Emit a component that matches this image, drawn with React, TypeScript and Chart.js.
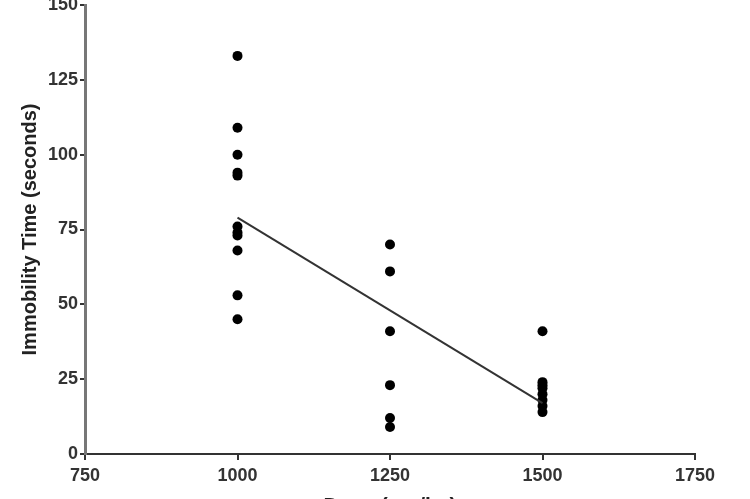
import React, { useEffect, useRef } from "react";
import { Chart, registerables } from "chart.js";

Chart.register(...registerables);

const xTickValues = [750, 1000, 1250, 1500, 1750];
const yTickValues = [0, 25, 50, 75, 100, 125, 150];

const dose1000 = [133, 109, 100, 94, 93, 76, 74, 73, 68, 53, 45];
const dose1250 = [70, 61, 41, 23, 12, 9];
const dose1500 = [41, 24, 23, 22, 20, 18, 16, 14];

const fitX = [1000, 1500];
const fitY = [79, 17];

const xTitle = "Dose (mg/kg)";
const yTitle = "Immobility Time (seconds)";

export default function App() {
  const ref = useRef<HTMLCanvasElement | null>(null);

  useEffect(() => {
    if (!ref.current) return;
    const points = [
      ...dose1000.map((y) => ({ x: 1000, y })),
      ...dose1250.map((y) => ({ x: 1250, y })),
      ...dose1500.map((y) => ({ x: 1500, y })),
    ];
    const fit = fitX.map((x, i) => ({ x, y: fitY[i] }));
    const font = "'Liberation Sans', Arial, sans-serif";
    const chart = new Chart(ref.current, {
      type: "scatter",
      data: {
        datasets: [
          {
            type: "line",
            data: fit,
            borderColor: "#333",
            borderWidth: 2,
            pointRadius: 0,
            fill: false,
          } as any,
          {
            data: points,
            backgroundColor: "#000",
            borderColor: "#000",
            pointRadius: 5,
            pointBorderWidth: 0,
          },
        ],
      },
      options: {
        animation: false,
        responsive: false,
        layout: { padding: { left: 0, right: 55, top: 5, bottom: 0 } },
        plugins: { legend: { display: false }, tooltip: { enabled: false } },
        scales: {
          x: {
            type: "linear",
            min: 750,
            max: 1750,
            afterBuildTicks: (s: any) => {
              s.ticks = xTickValues.map((v) => ({ value: v }));
            },
            afterFit: (s: any) => {
              s.height = 66;
              s.paddingLeft = 0;
              s.paddingRight = 0;
            },
            grid: { drawOnChartArea: false, drawTicks: true, tickLength: 6, color: "#333", lineWidth: 2 },
            border: { display: true, color: "#333", width: 2 },
            ticks: {
              color: "#333",
              font: { family: font, size: 18, weight: "bold" },
              padding: 5,
              maxRotation: 0,
              callback: (v: any) => String(v),
            },
            title: {
              display: true,
              text: xTitle,
              color: "#222",
              font: { family: font, size: 21, weight: "bold" },
              padding: { top: 0, bottom: 1 },
            },
          },
          y: {
            type: "linear",
            min: 0,
            max: 150,
            afterBuildTicks: (s: any) => {
              s.ticks = yTickValues.map((v) => ({ value: v }));
            },
            afterFit: (s: any) => {
              s.width = 85;
              s.paddingTop = 0;
              s.paddingBottom = 0;
            },
            grid: { drawOnChartArea: false, drawTicks: true, tickLength: 5, color: "#333", lineWidth: 2 },
            border: { display: true, color: "#777", width: 3 },
            ticks: {
              color: "#333",
              font: { family: font, size: 18, weight: "bold" },
              padding: 2,
              callback: (v: any) => String(v),
            },
            title: {
              display: true,
              text: yTitle,
              color: "#222",
              font: { family: font, size: 20, weight: "bold" },
              padding: { top: 18, bottom: 0 },
            },
          },
        },
      },
    });
    return () => chart.destroy();
  }, []);

  return (
    <canvas
      ref={ref}
      width={750}
      height={520}
      style={{ position: "fixed", left: 0, top: 0, width: 750, height: 520, background: "#fff" }}
    />
  );
}
